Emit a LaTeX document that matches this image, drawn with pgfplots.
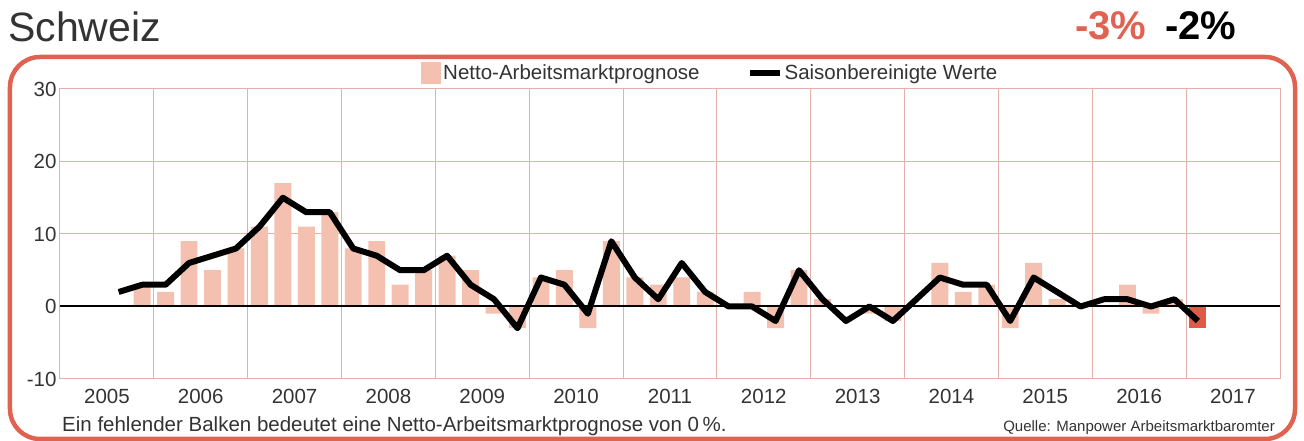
\documentclass[border=0pt]{standalone}
\usepackage{fontspec}
\setmainfont{Liberation Sans}
\usepackage{pgfplots}
\pgfplotsset{compat=1.18}
\definecolor{barpink}{HTML}{F4C0B0}
\definecolor{barred}{HTML}{E05A48}
\definecolor{framec}{HTML}{E06352}
\definecolor{gridc}{HTML}{E3B1AA}
\begin{document}
\begin{tikzpicture}
\useasboundingbox (-60pt,-62pt) rectangle (1244pt,379pt);
\begin{axis}[
  at={(0pt,0pt)}, anchor=south west,
  width=1220pt, height=290pt, scale only axis,
  xmin=2005, xmax=2018, ymin=-10, ymax=30,
  xtick={2005.5,2006.5,...,2017.5},
  xticklabels={2005,2006,2007,2008,2009,2010,2011,2012,2013,2014,2015,2016,2017},
  minor xtick={2005,2006,...,2018},
  xminorgrids=true, ymajorgrids=true,
  ytick={-10,0,10,20,30}, yticklabels={-10,0,10,20,30},
  major tick length=0pt, minor tick length=0pt,
  grid style={gridc, line width=1pt}, minor grid style={gridc, line width=1pt},
  axis line style={gridc, line width=1pt},
  tick label style={font=\fontsize{20.5}{24}\selectfont, text=black!80},
  xticklabel style={yshift=-7pt},
  legend style={at={(0.533,1.055)}, anchor=center, draw=none, fill=none,
    legend columns=2, font=\fontsize{20.5}{24}\selectfont, text=black!80,
    /tikz/every even column/.append style={column sep=45pt}},
  legend cell align=left,
]
\addplot[ybar, bar width=0.18, bar shift=0pt, fill=barpink, draw=none,
  legend image code/.code={\fill[barpink] (0pt,-11pt) rectangle (20pt,11pt);}]
coordinates {
(2005.875,3) (2006.125,2) (2006.375,9) (2006.625,5) (2006.875,8)
(2007.125,11) (2007.375,17) (2007.625,11) (2007.875,13)
(2008.125,8) (2008.375,9) (2008.625,3) (2008.875,5)
(2009.125,7) (2009.375,5) (2009.625,-1) (2009.875,-3)
(2010.125,4) (2010.375,5) (2010.625,-3) (2010.875,9)
(2011.125,4) (2011.375,3) (2011.625,4) (2011.875,2)
(2012.375,2) (2012.625,-3) (2012.875,5)
(2013.125,1) (2013.625,-1) (2013.875,-2)
(2014.375,6) (2014.625,2) (2014.875,3)
(2015.125,-3) (2015.375,6) (2015.625,1)
(2016.375,3) (2016.625,-1) (2016.875,1)
};
\addlegendentry{Netto-Arbeitsmarktprognose}
\addplot[ybar, bar width=0.18, bar shift=0pt, fill=barred, draw=none, forget plot]
coordinates {(2017.125,-3)};
\addplot[forget plot, black, line width=2pt] coordinates {(2005,0) (2018,0)};
\addplot[black, line width=6pt, line join=round,
  legend image code/.code={\draw[black,line width=6pt] (0pt,0pt) -- (30pt,0pt);}]
coordinates {
(2005.625,2) (2005.875,3)
(2006.125,3) (2006.375,6) (2006.625,7) (2006.875,8)
(2007.125,11) (2007.375,15) (2007.625,13) (2007.875,13)
(2008.125,8) (2008.375,7) (2008.625,5) (2008.875,5)
(2009.125,7) (2009.375,3) (2009.625,1) (2009.875,-3)
(2010.125,4) (2010.375,3) (2010.625,-1) (2010.875,9)
(2011.125,4) (2011.375,1) (2011.625,6) (2011.875,2)
(2012.125,0) (2012.375,0) (2012.625,-2) (2012.875,5)
(2013.125,1) (2013.375,-2) (2013.625,0) (2013.875,-2)
(2014.125,1) (2014.375,4) (2014.625,3) (2014.875,3)
(2015.125,-2) (2015.375,4) (2015.625,2) (2015.875,0)
(2016.125,1) (2016.375,1) (2016.625,0) (2016.875,1)
(2017.125,-2)
};
\addlegendentry{Saisonbereinigte Werte}
\end{axis}
\node[anchor=base west, inner sep=0pt, font=\fontsize{41}{46}\selectfont, text=black!80] at (-52pt,337pt) {Schweiz};
\node[anchor=base west, inner sep=0pt, font=\bfseries\fontsize{40}{44}\selectfont, text=framec] at (1015pt,339pt) {-3\%};
\node[anchor=base west, inner sep=0pt, font=\bfseries\fontsize{40}{44}\selectfont, text=black] at (1105pt,339pt) {-2\%};
\draw[framec, line width=4.5pt, rounded corners=30pt] (-50pt,-60pt) rectangle (1235pt,322pt);
\node[anchor=base west, inner sep=0pt, font=\fontsize{20.5}{24}\selectfont, text=black!80] at (2pt,-53pt) {Ein fehlender Balken bedeutet eine Netto-Arbeitsmarktprognose von 0\,\%.};
\node[anchor=base east, inner sep=0pt, font=\fontsize{15}{18}\selectfont, text=black!80] at (1215pt,-53pt) {Quelle: Manpower Arbeitsmarktbaromter};
\end{tikzpicture}
\end{document}
